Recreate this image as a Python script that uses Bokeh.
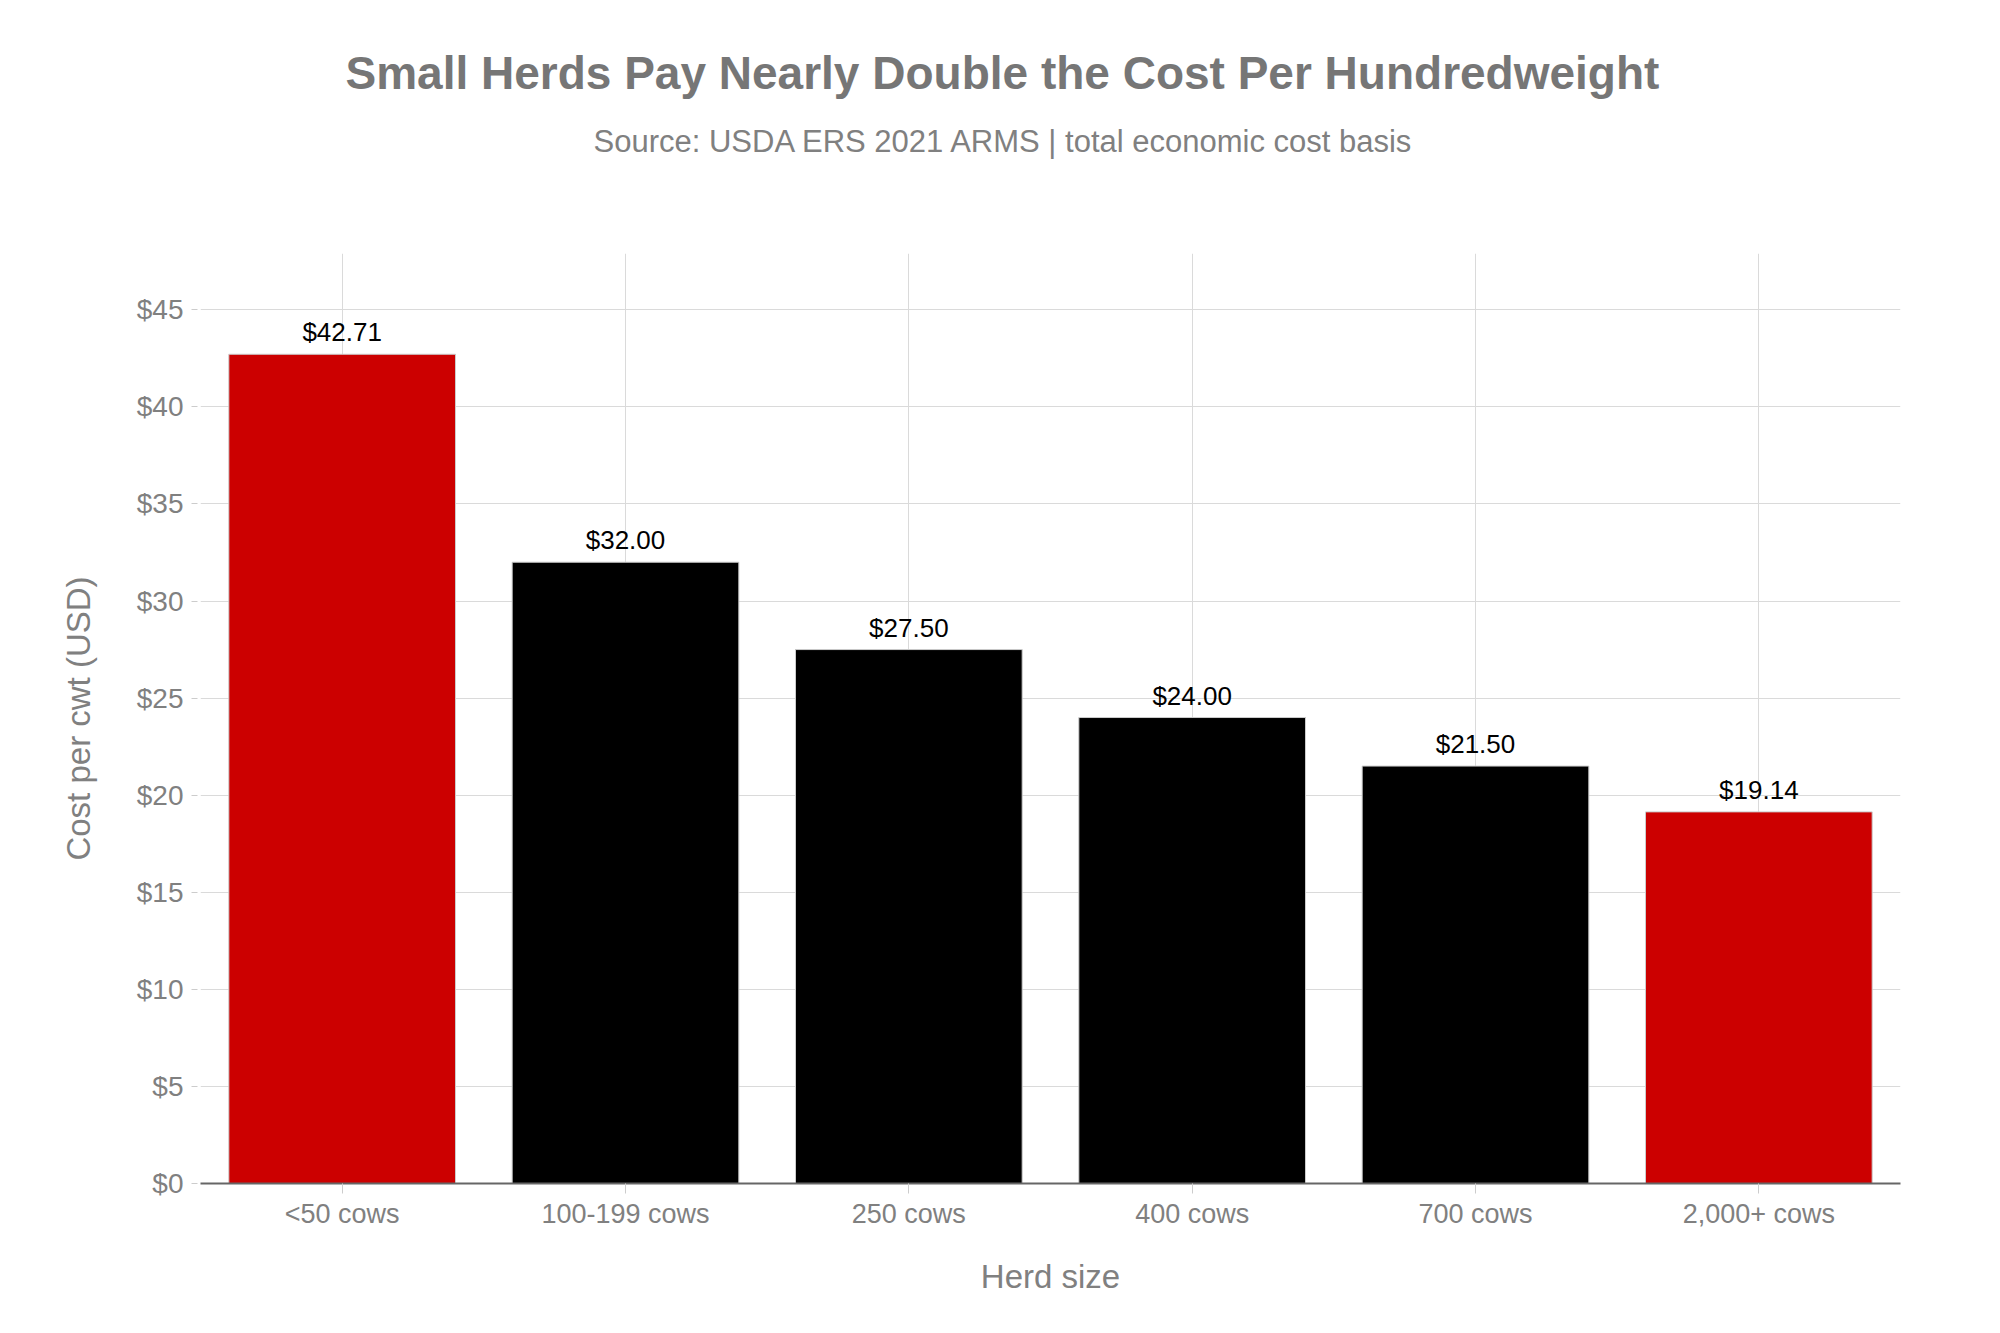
from bokeh.plotting import figure
from bokeh.models import ColumnDataSource, Range1d, FactorRange, SingleIntervalTicker, PrintfTickFormatter, Title
from bokeh.core.properties import value
from bokeh.embed import file_html
from bokeh.resources import INLINE

# ---- data ----
categories = ["<50 cows", "100-199 cows", "250 cows", "400 cows", "700 cows", "2,000+ cows"]
costs = [42.71, 32.00, 27.50, 24.00, 21.50, 19.14]
title_text = "Small Herds Pay Nearly Double the Cost Per Hundredweight"
subtitle_text = "Source: USDA ERS 2021 ARMS | total economic cost basis"
x_label = "Herd size"
y_label = "Cost per cwt (USD)"

RED = "#cc0000"
BLACK = "#000000"
FONT = "Liberation Sans"
GRAY = "#808080"

colors = [RED if (v == max(costs) or v == min(costs)) else BLACK for v in costs]
labels = ["${:.2f}".format(v) for v in costs]

src = ColumnDataSource(dict(cat=categories, val=costs, color=colors, label=labels))

p = figure(
    x_range=FactorRange(*categories, range_padding=0),
    y_range=Range1d(0, 47.9),
    width=1980, height=1310,
    output_backend="svg", toolbar_location=None,
    min_border_left=200, min_border_right=80,
    min_border_top=253, min_border_bottom=127,
)
p.outline_line_color = None
p.background_fill_color = "white"
p.border_fill_color = "white"

p.vbar(x="cat", top="val", width=0.8, source=src,
       fill_color="color", line_color="#cccccc", line_width=1)

p.text(x="cat", y="val", text="label", source=src,
       text_align="center", text_baseline="alphabetic", y_offset=-22,
       text_font=value(FONT), text_font_size=value("26px"), text_color="#000000")

# grids
p.xgrid.grid_line_color = "#dadada"
p.ygrid.grid_line_color = "#dadada"
p.xgrid.grid_line_width = 1
p.ygrid.grid_line_width = 1.2

# y axis
p.yaxis.ticker = SingleIntervalTicker(interval=5)
p.yaxis.formatter = PrintfTickFormatter(format="$%d")
p.yaxis.axis_line_color = None
p.yaxis.major_tick_line_color = "#cccccc"
p.yaxis.major_tick_in = -3
p.yaxis.major_tick_out = 9
p.yaxis.minor_tick_line_color = None
p.yaxis.major_label_standoff = 8
p.yaxis.major_label_text_font = FONT
p.yaxis.major_label_text_font_size = "28px"
p.yaxis.major_label_text_color = GRAY
p.yaxis.axis_label = y_label
p.yaxis.axis_label_text_font = FONT
p.yaxis.axis_label_text_font_size = "33px"
p.yaxis.axis_label_text_font_style = "normal"
p.yaxis.axis_label_text_color = GRAY
p.yaxis.axis_label_standoff = 37

# x axis
p.xaxis.axis_line_color = "#666666"
p.xaxis.axis_line_width = 2
p.xaxis.major_tick_line_color = "#cccccc"
p.xaxis.major_tick_in = 0
p.xaxis.major_tick_out = 10
p.xaxis.minor_tick_line_color = None
p.xaxis.major_label_standoff = 5
p.xaxis.major_label_text_font = FONT
p.xaxis.major_label_text_font_size = "27px"
p.xaxis.major_label_text_color = GRAY
p.xaxis.axis_label = x_label
p.xaxis.axis_label_text_font = FONT
p.xaxis.axis_label_text_font_size = "33px"
p.xaxis.axis_label_text_font_style = "normal"
p.xaxis.axis_label_text_color = GRAY
p.xaxis.axis_label_standoff = 26

# titles: spacer nearest the frame, then subtitle, then main title
spacer = Title(text=" ", align="left", standoff=82,
               text_font=FONT, text_font_size="1px", text_color="white")
p.add_layout(spacer, "above")
sub = Title(text=subtitle_text, align="left", offset=393, standoff=20,
            text_font=FONT, text_font_size="31px", text_font_style="normal",
            text_color=GRAY)
p.add_layout(sub, "above")
main = Title(text=title_text, align="left", offset=145, standoff=25,
             text_font=FONT, text_font_size="46px", text_font_style="bold",
             text_color="#767676")
p.add_layout(main, "above")

open("out.html", "w").write(file_html(p, INLINE))
